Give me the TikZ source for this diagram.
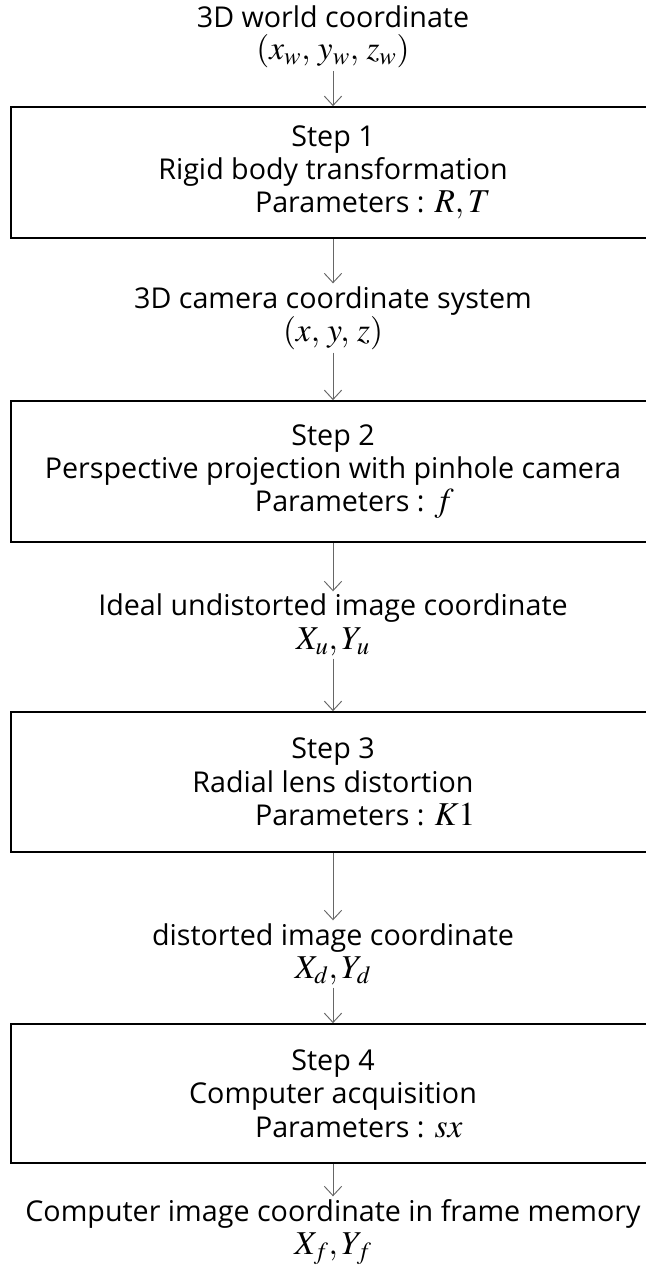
\documentclass[tikz,border=0pt]{standalone}
\usepackage{mathptmx}
\usepackage{fontspec}
\setmainfont{Open Sans}
\usetikzlibrary{arrows.meta}
\newcommand{\mth}[1]{{\fontsize{25}{25}\selectfont$#1$}}
\newcommand{\paramtxt}[1]{\makebox[117pt][l]{Parameters : #1}}

\begin{document}
\begin{tikzpicture}[x=0.75pt,y=-0.75pt,
  b/.style={draw,line width=1.3pt,minimum width=483pt,align=center,inner sep=0pt},
  l/.style={align=center,inner sep=2pt},
  a/.style={->,draw=black!60,line width=0.7pt},
  >={Straight Barb[length=7pt,width=13pt]},
  font=\fontsize{21.5}{25}\selectfont]
\useasboundingbox (0,0) rectangle (646,1268);
\node[l] (w) at (333,37) {3D world coordinate\\[-1pt]\mth{(x_w,\, y_w,\, z_w)}};
\node[b,minimum height=98.25pt] (s1) at (333,172.5) {Step 1\\Rigid body transformation\\\paramtxt{\mth{R,T}}};
\node[l] (c) at (333,318) {3D camera coordinate system\\\mth{(x,\, y,\, z)}};
\node[b,minimum height=105.75pt] (s2) at (333,471.5) {Step 2\\Perspective projection with pinhole camera\\\paramtxt{\mth{f}}};
\node[l] (u) at (333,625) {Ideal undistorted image coordinate\\\mth{X_u,Y_u}};
\node[b,minimum height=105pt] (s3) at (333,782) {Step 3\\Radial lens distortion\\\paramtxt{\mth{K1}}};
\node[l] (d) at (333,954) {distorted image coordinate\\\mth{X_d,Y_d}};
\node[b,minimum height=104.25pt] (s4) at (333,1093.5) {Step 4\\Computer acquisition\\\paramtxt{\mth{sx}}};
\node[l] (f) at (333,1232) {Computer image coordinate in frame memory\\\mth{X_f,Y_f}};
\draw[a] (w)--(s1);
\draw[a] (s1)--(c);
\draw[a] (c)--(s2);
\draw[a] (s2)--(u);
\draw[a] (u)--(s3);
\draw[a] (s3)--(d);
\draw[a] (d)--(s4);
\draw[a] (s4)--(f);
\end{tikzpicture}
\end{document}
